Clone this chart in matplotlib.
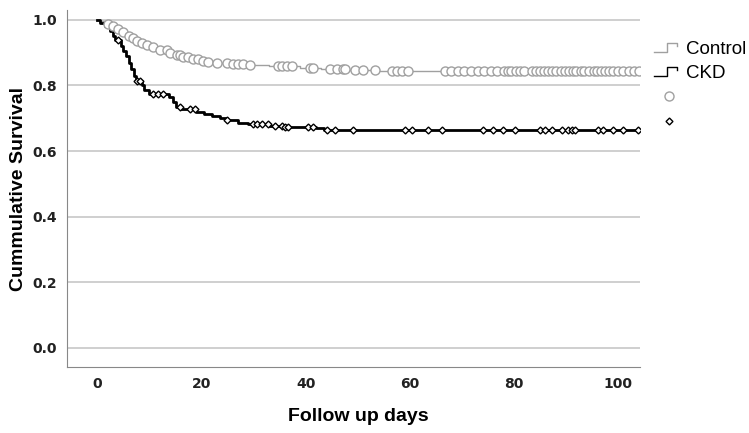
import numpy as np
import matplotlib.pyplot as plt
from matplotlib.lines import Line2D
from matplotlib.legend_handler import HandlerBase

# step events: time (days) and survival after the step
ctrl_t = [0.5, 1.5, 2.5, 3.5, 4.5, 5.5, 6.5, 7.5, 8.5, 9.5, 10.5, 12, 13.5, 15, 16.5,
          18, 19.5, 21, 23, 26, 29, 33, 39, 43, 48, 54]
ctrl_s = [0.995, 0.988, 0.982, 0.972, 0.962, 0.952, 0.945, 0.937, 0.93, 0.923, 0.916,
          0.908, 0.9, 0.894, 0.888, 0.882, 0.876, 0.872, 0.868, 0.865, 0.862, 0.858,
          0.854, 0.85, 0.847, 0.845]
ckd_t = [0.5, 1.5, 2.5, 3.0, 3.5, 4.5, 5.0, 5.5, 6.0, 6.5, 7.0, 7.5, 8.5, 9.0, 10.0,
         13.8, 14.5, 15.2, 16.0, 19.0, 20.5, 22.0, 23.5, 25.0, 27.0, 29.0, 33.0, 36.0,
         42.0, 43.5]
ckd_s = [0.99, 0.98, 0.965, 0.95, 0.94, 0.92, 0.905, 0.89, 0.87, 0.85, 0.83, 0.815,
         0.80, 0.787, 0.775, 0.765, 0.75, 0.735, 0.728, 0.72, 0.713, 0.706, 0.70, 0.695,
         0.687, 0.682, 0.677, 0.673, 0.67, 0.665]

# censored times
ctrl_cens = [2.1, 3.1, 4.0, 5.0, 6.0, 6.9, 7.7, 8.6, 9.6, 10.7, 12.1, 13.4, 14.0, 15.4,
             15.9, 16.5, 17.5, 18.4, 19.4, 20.3, 21.3, 23.0, 24.9, 26.1, 27.1, 28.0, 29.4,
             34.7, 35.5, 36.5, 37.4, 40.9, 41.5, 44.7, 46.1, 47.2, 47.6, 49.5, 51.1, 53.4,
             56.6, 57.6, 58.5, 59.7, 66.8, 68.0, 69.3, 70.5, 71.8, 73.0, 74.3, 75.5, 76.8,
             78.0, 78.8, 79.5, 80.3, 81.2, 82.0, 83.5, 84.2, 85.0, 85.8, 86.5, 87.3, 88.0,
             89.0, 89.8, 90.5, 91.3, 92.0, 92.8, 93.5, 94.5, 95.3, 96.0, 96.8, 97.5, 98.3,
             99.0, 100.0, 101.0, 102.0, 103.0, 104.0]
ckd_cens = [4.0, 7.7, 8.3, 10.7, 11.7, 12.7, 15.9, 17.9, 18.8, 25.0, 29.9, 30.7, 31.7,
            32.8, 34.2, 35.5, 36.1, 36.7, 40.5, 41.5, 44.1, 45.7, 49.1, 59.1, 60.5, 63.5,
            66.2, 74.1, 76.0, 77.9, 80.2, 85.0, 86.0, 87.3, 89.2, 90.4, 91.2, 91.7, 96.2,
            97.1, 99.0, 100.9, 103.8]

XMAX = 104.5


def step_xy(t, s):
    x = np.concatenate([[0], t, [XMAX]])
    y = np.concatenate([[1.0], s, [s[-1]]])
    return x, y


def surv_at(t, s, times):
    idx = np.searchsorted(t, times, side='right')
    vals = np.concatenate([[1.0], s])
    return vals[idx]


class StepHandler(HandlerBase):
    def create_artists(self, legend, orig, xd, yd, w, h, fontsize, trans):
        xs = np.array([0, 0.45, 0.45, 0.78, 0.78]) * w - xd
        ys = np.array([0.15, 0.15, 0.85, 0.85, 0.6]) * h - yd
        ln = Line2D(xs, ys, color=orig.get_color(), lw=1.0, transform=trans)
        return [ln]


fig = plt.figure(figsize=(7.49, 4.33), dpi=100)
ax = fig.add_axes([0.0895, 0.1524, 0.765, 0.8245])

cx, cy = step_xy(ctrl_t, ctrl_s)
kx, ky = step_xy(ckd_t, ckd_s)
l1, = ax.step(cx, cy, where='post', color='#a0a0a0', lw=1.0, zorder=3)
l2, = ax.step(kx, ky, where='post', color='black', lw=2.0, zorder=4)
m1, = ax.plot(ctrl_cens, surv_at(ctrl_t, ctrl_s, ctrl_cens), 'o', ms=6.5,
              mfc='white', mec='#a0a0a0', mew=1.0, ls='None', zorder=5)
m2, = ax.plot(ckd_cens, surv_at(ckd_t, ckd_s, ckd_cens), 'D', ms=3.5,
              mfc='white', mec='black', mew=1.0, ls='None', zorder=6)

ax.set_xlim(-5.8, 104.2)
ax.set_ylim(-0.058, 1.03)
ax.set_xticks([0, 20, 40, 60, 80, 100])
ax.set_yticks([0.0, 0.2, 0.4, 0.6, 0.8, 1.0])
ax.set_yticklabels(['0.0', '0.2', '0.4', '0.6', '0.8', '1.0'])
ax.tick_params(length=0, labelsize=10, pad=7)
for lab in ax.get_xticklabels() + ax.get_yticklabels():
    lab.set_fontweight('bold')
    lab.set_color('#222222')
ax.grid(axis='y', color='#cccccc', lw=1.3)
ax.set_axisbelow(True)
for sp in ['top', 'right']:
    ax.spines[sp].set_visible(False)
for sp in ['left', 'bottom']:
    ax.spines[sp].set_color('#888888')

ax.set_xlabel('Follow up days', fontsize=14, fontweight='bold',
              family='Liberation Sans')
ax.set_ylabel('Cummulative Survival', fontsize=14, fontweight='bold',
              family='Liberation Sans')
ax.xaxis.set_label_coords(0.508, -0.115)
ax.yaxis.set_label_coords(-0.07, 0.5)

leg = fig.legend([l1, l2, m1, m2], ['Control', 'CKD', '', ''],
                 handler_map={l1: StepHandler(), l2: StepHandler()},
                 loc='upper left', bbox_to_anchor=(0.868, 0.915), frameon=False,
                 prop={'family': 'Liberation Sans', 'size': 13.5},
                 handlelength=1.6, handletextpad=0.1, labelspacing=0.4,
                 borderaxespad=0, borderpad=0.2)

fig.savefig('out.png', dpi=100)
